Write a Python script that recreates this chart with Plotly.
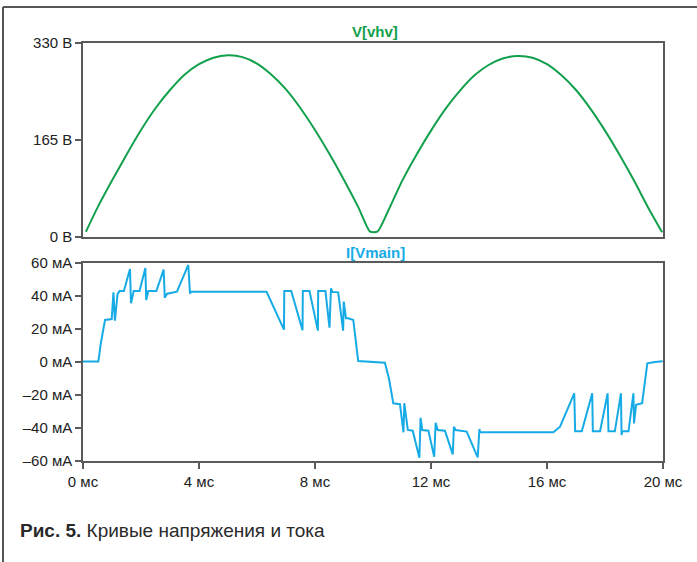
import plotly.graph_objects as go

# Voltage V[vhv] (ms, V)
v_time = [0.1, 0.5, 1.0, 1.5, 2.0, 2.5, 3.0, 3.5, 4.0, 4.5, 5.0, 5.5, 6.0, 6.5, 7.0, 7.5, 8.0, 8.5, 9.0, 9.5, 9.9,
          10.15, 10.5, 11.0, 11.5, 12.0, 12.5, 13.0, 13.5, 14.0, 14.5, 15.0, 15.5, 16.0, 16.5, 17.0, 17.5, 18.0, 18.5, 19.0, 19.5, 19.97]
v_values = [9, 50, 96, 140, 182, 219, 250, 276, 294, 305, 309, 306, 295, 276, 251, 219, 182, 141, 97, 50, 9,
            9, 42, 95, 140, 181, 218, 249, 275, 293, 304, 308, 305, 294, 275, 250, 218, 181, 140, 96, 49, 8]

# Current I[Vmain] (ms, mA)
i_time = [0.0, 0.53, 0.62, 0.76, 0.99, 1.05, 1.10, 1.19, 1.26, 1.41, 1.62, 1.655, 1.75, 1.95, 2.15, 2.18, 2.25, 2.53,
          2.78, 2.82, 2.90, 3.24, 3.63, 3.69, 3.72, 6.33, 6.93, 6.94, 7.18, 7.57, 7.58, 7.81, 8.10, 8.11, 8.36,
          8.50, 8.55, 8.60, 8.80, 8.97, 8.99, 9.07, 9.15, 9.32, 9.49, 10.41, 10.55, 10.70, 10.93, 11.05, 11.08, 11.20,
          11.37, 11.60, 11.64, 11.70, 11.91, 12.11, 12.16, 12.23, 12.48, 12.75, 12.79, 12.85, 13.23, 13.61, 13.67,
          13.69, 16.22, 16.45, 16.94, 16.97, 17.20, 17.56, 17.58, 17.83, 18.09, 18.12, 18.34, 18.55, 18.57, 18.60,
          18.81, 18.98, 19.00, 19.07, 19.28, 19.46, 19.72, 19.99]
i_values = [0.3, 0.3, 12, 25.5, 26, 42.2, 25, 41, 43, 43, 56.4, 35.6, 43, 43, 57, 37.6, 43, 43,
            56, 39, 41.4, 42.6, 58.8, 41.4, 42.6, 42.6, 19.6, 43, 43, 19.2, 43, 43, 19, 43, 43,
            20.8, 44.7, 42.5, 42.2, 19, 36.6, 26.5, 26.5, 25.5, 0.6, -0.4, -10, -25, -25.6, -42.6, -25, -41.2,
            -41.6, -58, -33.8, -41.2, -41.6, -57.4, -36.8, -41.2, -41.6, -56, -39.2, -41.2, -42.2, -57.8, -40.6,
            -42.6, -42.6, -39.2, -19, -42, -42, -19, -42, -42, -19, -42, -42, -19, -44.2, -42,
            -42, -19, -37.2, -26, -25, -0.8, 0, 0.4]

x_ticks = [0, 4, 8, 12, 16, 20]
x_ticktext = ["0 мс", "4 мс", "8 мс", "12 мс", "16 мс", "20 мс"]
v_ticks = [0, 165, 330]
v_ticktext = ["0 В", "165 В", "330 В"]
i_ticks = [-60, -40, -20, 0, 20, 40, 60]
i_ticktext = ["–60 мА", "–40 мА", "–20 мА", "0 мА", "20 мА", "40 мА", "60 мА"]

GREEN = "#12a04c"
BLUE = "#16abe6"
AX = "#5a5a5a"
FONT = "Liberation Sans, Arial, sans-serif"

fig = go.Figure()
fig.add_trace(go.Scatter(x=v_time, y=v_values, mode="lines", line=dict(color=GREEN, width=2, shape="spline", smoothing=0.6),
                         xaxis="x", yaxis="y", hoverinfo="skip"))
fig.add_trace(go.Scatter(x=i_time, y=i_values, mode="lines", line=dict(color=BLUE, width=2),
                         xaxis="x2", yaxis="y2", hoverinfo="skip"))

W, H = 697, 562
ml, mr, mt, mb = 83, 34, 43, 101
ph = H - mt - mb
pw = W - ml - mr
top_dom = [(H - mb - 237) / ph, 1]
bot_dom = [0, (H - mb - 263) / ph]

common_axis = dict(showline=True, linecolor=AX, linewidth=1.5, mirror=True, showgrid=False, zeroline=False,
                   ticks="outside", ticklen=6, tickcolor=AX, tickwidth=1.5,
                   tickfont=dict(family=FONT, size=15, color="#222"))

fig.update_layout(
    width=W, height=H,
    margin=dict(l=ml, r=mr, t=mt, b=mb),
    paper_bgcolor="white", plot_bgcolor="white",
    showlegend=False,
    xaxis=dict(domain=[0, 1], range=[0, 20], anchor="y", showticklabels=False, ticks="",
               showline=True, linecolor=AX, linewidth=1.5, mirror=True, showgrid=False, zeroline=False),
    yaxis=dict(domain=top_dom, range=[0, 330], tickvals=v_ticks, ticktext=v_ticktext, anchor="x", **common_axis),
    xaxis2=dict(domain=[0, 1], range=[0, 20], anchor="y2", tickvals=x_ticks, ticktext=x_ticktext, **common_axis),
    yaxis2=dict(domain=bot_dom, range=[-60, 60], tickvals=i_ticks, ticktext=i_ticktext, anchor="x2", **common_axis),
)

def px_x(px):
    return (px - ml) / pw

def px_y(py):
    return (H - mb - py) / ph

fig.add_annotation(text="<b>V[vhv]</b>", x=px_x(375), y=px_y(32), xref="paper", yref="paper",
                   xanchor="center", yanchor="middle",
                   showarrow=False, font=dict(family=FONT, size=15, color=GREEN))
fig.add_annotation(text="<b>I[Vmain]</b>", x=px_x(375), y=px_y(252), xref="paper", yref="paper",
                   xanchor="center", yanchor="middle",
                   showarrow=False, font=dict(family=FONT, size=15, color=BLUE))
fig.add_annotation(text="<b>Рис. 5.</b> Кривые напряжения и тока", x=px_x(18), y=px_y(530), xref="paper", yref="paper",
                   xanchor="left", yanchor="middle", showarrow=False, font=dict(family=FONT, size=19, color="#2a2a2a"))

# outer frame (top and left)
fig.add_shape(type="line", xref="paper", yref="paper", x0=px_x(3), y0=px_y(7), x1=px_x(697), y1=px_y(7),
              line=dict(color="#555", width=2))
fig.add_shape(type="line", xref="paper", yref="paper", x0=px_x(3), y0=px_y(7), x1=px_x(3), y1=px_y(562),
              line=dict(color="#555", width=2))

fig.write_html("out.html", config={"displayModeBar": False},
               post_script="document.body.style.margin='0';document.body.style.overflow='hidden';")
